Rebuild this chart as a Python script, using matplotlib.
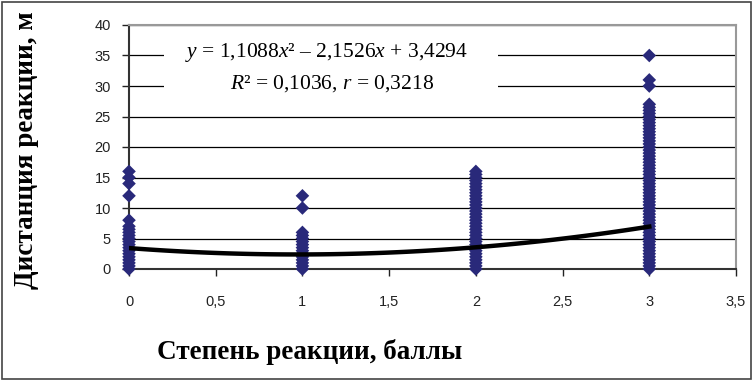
import matplotlib
matplotlib.use('Agg')
import matplotlib.pyplot as plt
import numpy as np

# reaction degree (points) and reaction distance (m)
dist_0 = [0, 0.5, 1, 1.5, 2, 2.5, 3, 3.5, 4, 4.5, 5, 5.5, 6, 6.5, 7, 8, 12, 14, 15, 16]
dist_1 = [0, 0.5, 1, 1.5, 2, 2.5, 3, 3.5, 4, 4.5, 5, 5.5, 6, 10, 12]
dist_2 = [0, 0.5, 1, 1.5, 2, 2.5, 3, 3.5, 4, 4.5, 5, 5.5, 6, 6.5, 7, 7.5, 8, 8.5,
          9, 9.5, 10, 10.5, 11, 11.5, 12, 12.5, 13, 13.5, 14, 14.5, 15, 15.5, 16]
dist_3 = [0, 0.5, 1, 1.5, 2, 2.5, 3, 3.5, 4, 4.5, 5, 5.5, 6, 6.5, 7, 7.5, 8, 8.5,
          9, 9.5, 10, 10.5, 11, 11.5, 12, 12.5, 13, 13.5, 14, 14.5, 15, 15.5, 16,
          16.5, 17, 17.5, 18, 18.5, 19, 19.5, 20, 20.5, 21, 21.5, 22, 22.5, 23,
          23.5, 24, 24.5, 25, 25.5, 26, 26.5, 27, 30, 31, 35]
degrees = [0, 1, 2, 3]
distances = [dist_0, dist_1, dist_2, dist_3]

# polynomial trend line shown in the chart
trend_coef = [1.1088, -2.1526, 3.4294]

x_ticks = [0, 0.5, 1, 1.5, 2, 2.5, 3, 3.5]
x_tick_labels = ['0', '0,5', '1', '1,5', '2', '2,5', '3', '3,5']
y_ticks = [0, 5, 10, 15, 20, 25, 30, 35, 40]

plt.rcParams['mathtext.fontset'] = 'custom'
plt.rcParams['mathtext.rm'] = 'Liberation Serif'
plt.rcParams['mathtext.it'] = 'Liberation Serif:italic'

fig = plt.figure(figsize=(7.53, 3.81), dpi=100)
ax = fig.add_axes([129 / 753, 1 - 269 / 381, (736 - 129) / 753, (269 - 25) / 381])

for d, vals in zip(degrees, distances):
    ax.scatter([d] * len(vals), vals, marker='D', s=48, color='#29297A',
               edgecolors='none', zorder=3, clip_on=False)

xt = np.linspace(0, 3, 100)
ax.plot(xt, np.polyval(trend_coef, xt), color='black', linewidth=3.2, zorder=4)

ax.set_xlim(0, 3.5)
ax.set_ylim(0, 40)
ax.set_xticks(x_ticks)
ax.set_xticklabels(x_tick_labels)
ax.set_yticks(y_ticks)
ax.tick_params(labelsize=10.5, colors='#222222', length=5, width=1,
               direction='out', labelcolor='#222222')
ax.tick_params(axis='x', pad=14)
ax.tick_params(axis='y', pad=8)
for lab in ax.get_xticklabels() + ax.get_yticklabels():
    lab.set_family('Liberation Sans')

ax.grid(axis='y', color='black', linewidth=0.9)
ax.set_axisbelow(True)
ax.spines['left'].set_color('#333333')
ax.spines['bottom'].set_color('#333333')
ax.spines['top'].set_color('#999999')
ax.spines['right'].set_color('#999999')
for s in ax.spines.values():
    s.set_linewidth(1.5)

# white label box of the trend line covers the gridlines behind it
fig.add_artist(plt.Rectangle((164 / 753, 1 - 100 / 381), (498 - 164) / 753, 62 / 381,
                             transform=fig.transFigure, facecolor='white',
                             edgecolor='none', zorder=5))
fig.text(327 / 753, 1 - 53 / 381,
         r'$y$ = 1,1088$x$² – 2,1526$x$ + 3,4294',
         family='Liberation Serif', fontsize=15.5, ha='center', va='center',
         zorder=6)
fig.text(332 / 753, 1 - 84 / 381,
         r'$R$² = 0,1036, $r$ = 0,3218',
         family='Liberation Serif', fontsize=15.5, ha='center', va='center',
         zorder=6)

fig.text(310 / 753, 1 - 352 / 381, 'Степень реакции, баллы',
         family='Liberation Serif', weight='bold', fontsize=19.5,
         ha='center', va='center')
fig.text(27 / 753, 1 - 150 / 381, 'Дистанция реакции, м',
         family='Liberation Serif', weight='bold', fontsize=19.5,
         ha='center', va='center', rotation=90)

fig.add_artist(plt.Rectangle((2 / 753, 2 / 381), 749 / 753, 377 / 381,
                             transform=fig.transFigure, fill=False,
                             edgecolor='#444444', linewidth=1.2))

fig.savefig('out.png', dpi=100)
